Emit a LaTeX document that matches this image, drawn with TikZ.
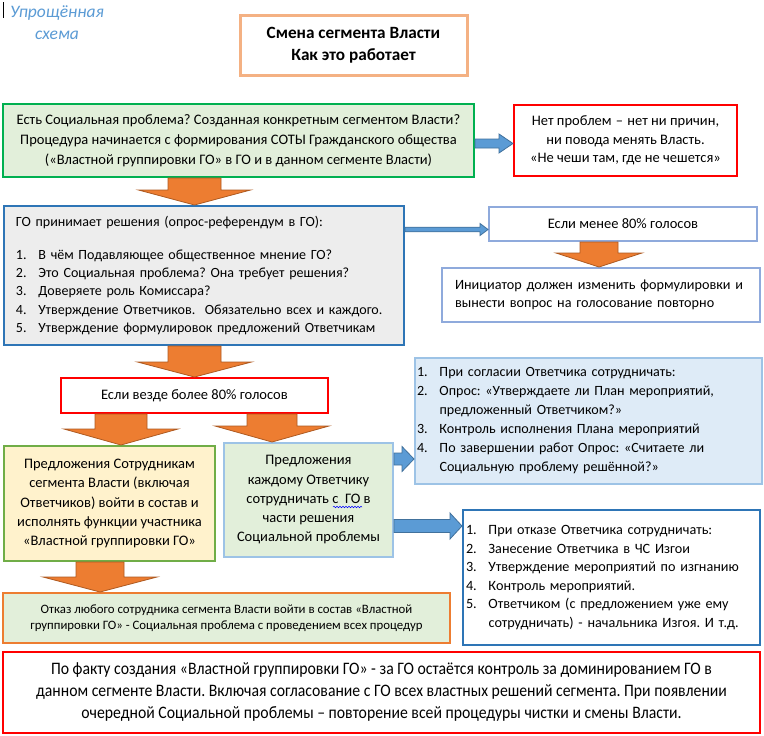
\documentclass[tikz,border=0pt]{standalone}
\usepackage{fontspec}
\setmainfont{Carlito}
\newfontfamily\condfont[FakeStretch=0.9]{Carlito}
\usetikzlibrary{calc,decorations.pathmorphing}
\frenchspacing
\definecolor{titleor}{HTML}{F4B183}
\definecolor{grn}{HTML}{00B050}
\definecolor{grnfill}{HTML}{E2EFDA}
\definecolor{redb}{HTML}{FF0000}
\definecolor{blueb}{HTML}{2E75B6}
\definecolor{greyfill}{HTML}{EDEDED}
\definecolor{ltblue}{HTML}{8FAADC}
\definecolor{ltblue2}{HTML}{9DC3E6}
\definecolor{bluefill}{HTML}{DEEBF7}
\definecolor{grn2}{HTML}{70AD47}
\definecolor{yelfill}{HTML}{FFF2CC}
\definecolor{orfill}{HTML}{ED7D31}
\definecolor{ordraw}{HTML}{AE5A21}
\definecolor{bafill}{HTML}{5B9BD5}
\definecolor{badraw}{HTML}{41719C}
\definecolor{italblue}{HTML}{5B9BD5}
\newcommand\itm[1]{\makebox[22.5pt][l]{#1}}
\newcommand\dnarrow[6]{%
 \draw[oarrow] let \p1=(#1.south), \p2=(#2.north), \p3=(#3,0) in
 (\x3-#4pt,\y1) -- (\x3+#4pt,\y1) -- (\x3+#4pt,\y2+#6pt) -- (\x3+#5pt,\y2+#6pt) -- (\x3,\y2) -- (\x3-#5pt,\y2+#6pt) -- (\x3-#4pt,\y2+#6pt) -- cycle;}
\newcommand\rtarrow[6]{%
 \draw[barrow] let \p1=(#1.east), \p2=(#2.west), \p3=(0,#3) in
 (\x1,\y3+#4pt) -- (\x2-#6pt,\y3+#4pt) -- (\x2-#6pt,\y3+#5pt) -- (\x2,\y3) -- (\x2-#6pt,\y3-#5pt) -- (\x2-#6pt,\y3-#4pt) -- (\x1,\y3-#4pt) -- cycle;}
\tikzset{
 box/.style={draw, rectangle, inner sep=0pt, line width=2pt, align=center, font=\fontsize{14.5}{18.3}\selectfont},
 oarrow/.style={fill=orfill, draw=ordraw, line width=0.8pt, line join=miter},
 barrow/.style={fill=bafill, draw=badraw, line width=0.8pt, line join=miter},
}
\begin{document}
\begin{tikzpicture}[x=1pt,y=-1pt]
\useasboundingbox[fill=white] (0,0) rectangle (764,736);
% top-left label
\draw[line width=0.8pt] (3.5,2) -- (3.5,18);
\node[align=center, text=italblue, font=\itshape\fontsize{17.5}{21.5}\selectfont, inner sep=0pt] (lbl) at (57,22.5) {Упрощённая\\схема};
% title
\node[box, draw=titleor, line width=3pt, minimum width=227pt, minimum height=60pt, font=\bfseries\fontsize{17.2}{22.5}\selectfont] (title) at (353.5,45) {\raisebox{-1.5pt}{Смена сегмента Власти}\\\raisebox{-1.5pt}{Как это работает}};
% row 1
\node[box, draw=grn, fill=grnfill, minimum width=471pt, minimum height=73pt, font=\fontsize{14.5}{20}\selectfont] (b1) at (238.5,140.5) {\raisebox{-1.5pt}{Есть Социальная проблема? Созданная конкретным сегментом Власти?}\\\raisebox{-1.5pt}{Процедура начинается с формирования СОТЫ Гражданского общества}\\\raisebox{-1.5pt}{(«Властной группировки ГО» в ГО и в данном сегменте Власти)}};
\node[box, draw=redb, fill=white, minimum width=223pt, minimum height=71pt, font=\fontsize{14.5}{18.5}\selectfont] (np) at (625.5,140.5) {Нет проблем\hspace{4.3pt}–\hspace{4.3pt}нет ни причин,\\ни повода менять Власть.\\«Не чеши там, где не чешется»};
% row 2
\node[box, draw=blueb, fill=greyfill, minimum width=400pt, minimum height=139pt, text width=376pt, align=left, font=\fontsize{14.05}{18.3}\selectfont] (b2) at (204,275.5) {\raisebox{-1.5pt}{ГО принимает решения (опрос-референдум в ГО):}\\[15.7pt]
\itm{1.}В чём Подавляющее общественное мнение ГО?\\
\itm{2.}Это Социальная проблема? Она требует решения?\\
\itm{3.}Доверяете роль Комиссара?\\
\itm{4.}Утверждение Ответчиков.\ \ Обязательно всех и каждого.\\
\itm{5.}Утверждение формулировок предложений Ответчикам};
\node[box, draw=ltblue, fill=white, minimum width=268pt, minimum height=34pt] (less) at (623,224) {Если менее 80\% голосов};
\node[box, draw=ltblue, fill=white, minimum width=318pt, minimum height=54pt, text width=304pt, align=left, font=\fontsize{14.2}{18}\selectfont] (init) at (601,295) {\hspace*{6pt}Инициатор должен изменить формулировки и\\\hspace*{6pt}вынести вопрос на голосование повторно};
% row 3
\node[box, draw=redb, fill=white, minimum width=267pt, minimum height=35pt] (more) at (194.5,395.5) {Если везде более 80\% голосов};
\node[box, draw=ltblue2, fill=bluefill, minimum width=347pt, minimum height=126pt, text width=343pt, align=left, font=\fontsize{14.1}{19}\selectfont] (agree) at (588.5,421) {\itm{1.}При согласии Ответчика сотрудничать:\\
\itm{2.}Опрос: «Утверждаете ли План мероприятий,\\
\itm{}предложенный Ответчиком?»\\
\itm{3.}Контроль исполнения Плана мероприятий\\
\itm{4.}По завершении работ Опрос: «Считаете ли\\
\itm{}Социальную проблему решённой?»};
% row 4
\node[box, draw=grn2, fill=yelfill, minimum width=211pt, minimum height=115pt, font=\fontsize{14.5}{19.25}\selectfont] (staff) at (109.5,503.5) {Предложения Сотрудникам\\сегмента Власти (включая\\Ответчиков) войти в состав и\\исполнять функции участника\\«Властной группировки ГО»};
\node[box, draw=ltblue2, fill=grnfill, minimum width=169pt, minimum height=114pt, font=\fontsize{14.5}{19.25}\selectfont] (resp) at (308.5,500) {Предложения\\каждому Ответчику\\сотрудничать с\ \ ГО в\\части решения\\Социальной проблемы};
\node[box, draw=blueb, fill=white, minimum width=297pt, minimum height=135pt, text width=291pt, align=left, font=\fontsize{14.2}{18.6}\selectfont] (refuse) at (611.5,577.5) {\raisebox{1.5pt}{\itm{1.}При отказе Ответчика сотрудничать:}\\
\raisebox{1.5pt}{\itm{2.}Занесение Ответчика в ЧС Изгои}\\
\raisebox{1.5pt}{\itm{3.}Утверждение мероприятий по изгнанию}\\
\raisebox{1.5pt}{\itm{4.}Контроль мероприятий.}\\
\raisebox{1.5pt}{\itm{5.}Ответчиком (с предложением уже ему}\\
\raisebox{1.5pt}{\itm{}сотрудничать) - начальника Изгоя. И т.д.}};
% row 5
\node[box, draw=orfill, fill=grnfill, minimum width=447pt, minimum height=50pt, font=\fontsize{12.8}{16}\selectfont] (deny) at (226.5,618) {Отказ любого сотрудника сегмента Власти войти в состав «Властной\\группировки ГО» - Социальная проблема с проведением всех процедур};
\node[box, draw=redb, fill=white, line width=2.5pt, minimum width=757pt, minimum height=81pt, font=\condfont\fontsize{17.5}{22}\selectfont] (final) at (381.5,692.5) {По факту создания «Властной группировки ГО» - за ГО остаётся контроль за доминированием ГО в\\данном сегменте Власти. Включая согласование с ГО всех властных решений сегмента. При появлении\\очередной Социальной проблемы – повторение всей процедуры чистки и смены Власти.};
% spell-check underline
\draw[blue, line width=0.5pt, decorate, decoration={snake, amplitude=0.8pt, segment length=3pt}] (333,507) -- (362,507);
% orange arrows
\dnarrow{b1}{b2}{194.5}{26.5}{56}{15}
\dnarrow{less}{init}{599}{19}{43}{14}
\dnarrow{b2}{more}{194.5}{26.5}{57}{15}
\dnarrow{more}{staff}{121}{26}{57}{16}
\dnarrow{more}{resp}{272}{25}{57}{16}
\dnarrow{staff}{deny}{100}{24}{57}{15}
% blue arrows
\rtarrow{b1}{np}{143.5}{4.5}{9.5}{14}
\rtarrow{b2}{less}{229.5}{2.3}{6}{8}
\rtarrow{resp}{agree}{459}{6}{12.5}{12}
\rtarrow{resp}{refuse}{526}{6.5}{13}{12}
\end{tikzpicture}
\end{document}
